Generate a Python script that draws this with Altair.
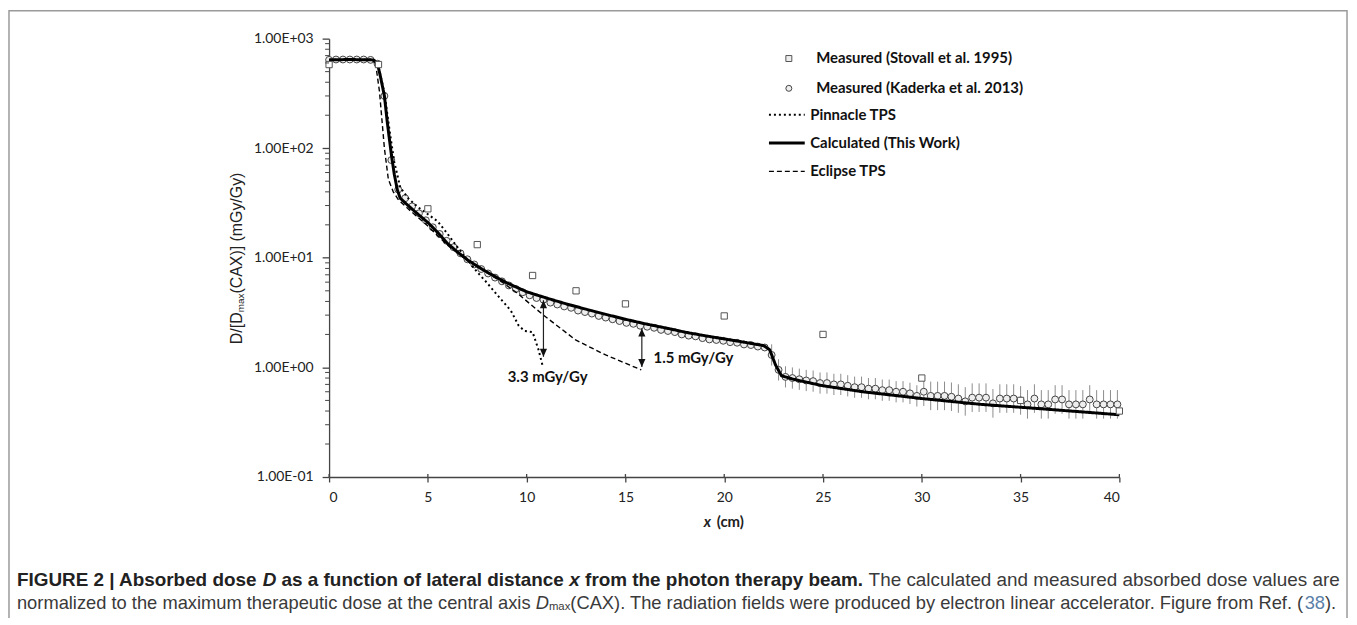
import altair as alt
import pandas as pd

# ---------------- data ----------------
stovall_x = [0, 2.5, 5, 7.5, 10.3, 12.5, 15, 20, 25, 30, 35, 40]
stovall_y = [580, 580, 28, 13.2, 6.9, 5.0, 3.8, 2.95, 2.0, 0.8, 0.5, 0.4]

kaderka_x = [0.0, 0.35, 0.7, 1.05, 1.4, 1.75, 2.1, 2.45, 2.8, 3.15, 3.5, 3.85, 4.2, 4.55, 4.9,
             5.25, 5.6, 5.95, 6.3, 6.65, 7.0, 7.35, 7.7, 8.05, 8.4, 8.75, 9.1, 9.45, 9.8, 10.15,
             10.5, 10.85, 11.2, 11.55, 11.9, 12.25, 12.6, 12.95, 13.3, 13.65, 14.0, 14.35, 14.7,
             15.05, 15.4, 15.75, 16.1, 16.45, 16.8, 17.15, 17.5, 17.85, 18.2, 18.55, 18.9, 19.25,
             19.6, 19.95, 20.3, 20.65, 21.0, 21.35, 21.7, 22.05, 22.4, 22.75, 23.1, 23.45, 23.8,
             24.15, 24.5, 24.85, 25.2, 25.55, 25.9, 26.25, 26.6, 26.95, 27.3, 27.65, 28.0, 28.35,
             28.7, 29.05, 29.4, 29.75, 30.1, 30.45, 30.8, 31.15, 31.5, 31.85, 32.2, 32.55, 32.9,
             33.25, 33.6, 33.95, 34.3, 34.65, 35.0, 35.35, 35.7, 36.05, 36.4, 36.75, 37.1, 37.45,
             37.8, 38.15, 38.5, 38.85, 39.2, 39.55, 39.9]
kaderka_y = [640, 645, 645, 645, 645, 645, 640, 590, 300, 78, 42, 35, 29.5, 25.5, 22,
             19, 16.5, 14.3, 12.5, 11.0, 9.7, 8.7, 7.9, 7.2, 6.6, 6.1, 5.6, 5.2, 4.85, 4.55,
             4.3, 4.15, 3.9, 3.75, 3.6, 3.5, 3.3, 3.2, 3.1, 2.95, 2.85, 2.75, 2.65,
             2.55, 2.5, 2.4, 2.35, 2.3, 2.2, 2.15, 2.1, 2.0, 1.95, 1.92, 1.85, 1.8,
             1.78, 1.75, 1.7, 1.68, 1.62, 1.6, 1.55, 1.52, 1.3, 0.95, 0.82, 0.8, 0.78,
             0.76, 0.75, 0.72, 0.72, 0.7, 0.7, 0.68, 0.66, 0.66, 0.64, 0.64, 0.62, 0.62,
             0.6, 0.6, 0.58, 0.55, 0.6, 0.55, 0.55, 0.55, 0.54, 0.52, 0.49, 0.53, 0.53,
             0.53, 0.47, 0.52, 0.52, 0.52, 0.5, 0.46, 0.52, 0.46, 0.46, 0.51, 0.51, 0.46,
             0.46, 0.46, 0.51, 0.46, 0.46, 0.46, 0.46]
# relative uncertainty of each Kaderka point (small before the field edge, larger after)
kaderka_err = [0.07] * 64 + [0.25] * 22 + [0.35] * 29

pinnacle_x = [0, 1, 2.3, 2.5, 2.8, 3.1, 3.3, 3.6, 4.0, 4.5, 5.0, 5.5, 6.0, 6.5, 7.0, 7.5,
              8.0, 8.5, 9.2, 9.6, 9.9, 10.3, 10.6, 10.8]
pinnacle_y = [640, 645, 640, 560, 320, 130, 75, 44, 35, 29, 25, 21.5, 16.5, 12.5, 9.6, 7.4,
              5.9, 4.6, 3.3, 2.4, 2.15, 2.1, 1.45, 1.05]

calc_x = [0, 1, 2.2, 2.45, 2.6, 2.8, 2.95, 3.15, 3.3, 3.45, 3.6, 4.0, 4.5, 5.0, 5.5, 6.0,
          6.5, 7.0, 7.5, 8.0, 9.0, 10.0, 11.0, 12.0, 13.0, 14.0, 15.0, 16.0, 17.0, 18.0,
          19.0, 20.0, 21.0, 22.0, 22.3, 22.6, 22.9, 23.5, 25, 27, 30, 33, 36, 40]
calc_y = [640, 645, 640, 590, 450, 300, 170, 88, 58, 42, 35, 30, 25, 21, 17, 13.5,
          11.3, 9.6, 8.4, 7.4, 5.9, 4.9, 4.3, 3.8, 3.4, 3.05, 2.75, 2.5, 2.3, 2.1,
          1.95, 1.82, 1.7, 1.58, 1.45, 1.05, 0.84, 0.78, 0.68, 0.6, 0.52, 0.46, 0.42, 0.37]

eclipse_x = [0, 1, 2.2, 2.35, 2.55, 2.8, 3.0, 3.25, 3.5, 4.0, 5.0, 6.0, 7.0, 8.0, 8.7, 9.5,
             10.85, 12.5, 14.0, 15.8]
eclipse_y = [640, 645, 640, 600, 330, 100, 52, 40, 34, 28, 19.5, 13, 9.4, 7.3, 6.1, 4.8,
             3.0, 1.77, 1.3, 0.95]

arrow_x = [10.85, 15.83]
arrow_top = [4.1, 2.26]
arrow_bottom = [1.25, 1.01]

ann_x = [11.06, 18.44]
ann_y = [0.82, 1.21]
ann_text = ["3.3 mGy/Gy", "1.5 mGy/Gy"]

x_ticks = [0, 5, 10, 15, 20, 25, 30, 35, 40]
y_ticks = [0.1, 1, 10, 100, 1000]
y_minor = [m * d for d in (0.1, 1, 10, 100) for m in range(2, 10)]

point_names = ["Measured (Stovall et al. 1995)", "Measured (Kaderka et al. 2013)"]
line_names = ["Pinnacle TPS", "Calculated (This Work)", "Eclipse TPS"]

# ---------------- layout ----------------
W, H = 795, 441
OX, OY = 331, 37          # page position of the plot origin


def rx(px):
    return px - OX


def ry(py):
    return py - OY


# Liberation Sans (Arial-metric) advance widths, used to place mixed-style text runs
_UP = "ABCDEFGHIJKLMNOPQRSTUVWXYZ"
_LO = "abcdefghijklmnopqrstuvwxyz"
REG = dict(zip(_UP, [667, 667, 722, 722, 667, 611, 778, 722, 278, 500, 667, 556, 833, 722, 778,
                     667, 778, 722, 667, 611, 722, 667, 944, 667, 667, 611]))
REG.update(zip(_LO, [556, 556, 500, 556, 556, 278, 556, 556, 222, 222, 500, 222, 833, 556, 556,
                     556, 556, 333, 500, 278, 556, 500, 722, 500, 500, 500]))
REG.update({" ": 278, ".": 278, ",": 278, "(": 333, ")": 333, "|": 260, "/": 278, "[": 278,
            "]": 278})
REG.update({d: 556 for d in "0123456789"})
BOLD = dict(zip(_UP, [722, 722, 722, 722, 667, 611, 778, 722, 278, 556, 722, 611, 833, 722, 778,
                      667, 778, 722, 667, 611, 722, 667, 944, 667, 667, 611]))
BOLD.update(zip(_LO, [556, 611, 556, 611, 556, 333, 611, 611, 278, 278, 556, 278, 889, 611, 611,
                      611, 611, 389, 556, 333, 611, 556, 778, 556, 556, 500]))
BOLD.update({" ": 278, ".": 278, ",": 278, "(": 333, ")": 333, "|": 280, "/": 278, "[": 333,
             "]": 333})
BOLD.update({d: 556 for d in "0123456789"})


def tw(s, bold=False):
    t = BOLD if bold else REG
    return sum(t.get(c, 556) for c in s) / 1000.0


ONE = pd.DataFrame({"k": [0]})


def text_run(s, x, y, size, weight="normal", style="normal", font="Liberation Sans",
             color="#222222", align="left", angle=0):
    return alt.Chart(ONE).mark_text(
        text=s, font=font, fontSize=size, fontWeight=weight, fontStyle=style, color=color,
        align=align, baseline="middle", angle=angle
    ).encode(x=alt.value(x), y=alt.value(y))


xs = alt.Scale(domain=[0, 40], nice=False)
ys = alt.Scale(type="log", domain=[0.1, 1000], nice=False)

x_axis = alt.Axis(values=x_ticks, title=None, grid=False, format="d", domainColor="#444444",
                  domainWidth=1.3, tickColor="#444444", tickWidth=1.3, tickSize=5,
                  labelFont="Lato", labelFontSize=14, labelColor="#222222", labelPadding=9)
y_axis = alt.Axis(values=y_ticks, title=None, grid=False, domainColor="#444444",
                  domainWidth=1.3, tickColor="#444444", tickWidth=1.3, tickSize=7,
                  labelFont="Lato", labelFontSize=14, labelColor="#222222", labelPadding=9,
                  labelExpr="'1.00E' + (datum.value < 1 ? '-' : '+') + '0' + "
                            "abs(round(log(datum.value) / LN10))")

pt_legend = alt.Legend(
    orient="none", legendX=455, legendY=12.5, title=None, padding=0,
    labelFont="Lato", labelFontSize=15, labelFontWeight="bold", labelColor="#111111",
    labelLimit=400, symbolSize=36, rowPadding=14, labelOffset=20,
    symbolFillColor="#ffffff", symbolStrokeWidth=1, symbolOpacity=1)
ln_legend = alt.Legend(
    orient="none", legendX=446, legendY=62.5, title=None, padding=0,
    labelFont="Lato", labelFontSize=15, labelFontWeight="bold", labelColor="#111111",
    labelLimit=400, symbolType="M-1.385,0L1.385,0", symbolSize=676, rowPadding=6,
    labelOffset=9, symbolStrokeColor="#000000")

kad = pd.DataFrame({"x": kaderka_x, "y": kaderka_y, "e": kaderka_err})
kad["lo"] = kad["y"] / (1 + kad["e"])
kad["hi"] = kad["y"] * (1 + kad["e"])
kad["series"] = point_names[1]
sto = pd.DataFrame({"x": stovall_x, "y": stovall_y, "series": point_names[0]})

lines = pd.concat([
    pd.DataFrame({"x": pinnacle_x, "y": pinnacle_y, "series": line_names[0]}),
    pd.DataFrame({"x": calc_x, "y": calc_y, "series": line_names[1]}),
    pd.DataFrame({"x": eclipse_x, "y": eclipse_y, "series": line_names[2]}),
])

arrows = pd.DataFrame({"x": arrow_x, "top": arrow_top, "bottom": arrow_bottom})
anns = pd.DataFrame({"x": ann_x, "y": ann_y, "t": ann_text})

shape_scale = alt.Scale(domain=point_names, range=["square", "circle"])
pstroke_scale = alt.Scale(domain=point_names, range=["#555555", "#444444"])
dash_scale = alt.Scale(domain=line_names, range=[[2, 3], [1, 0], [5, 3]])
width_scale = alt.Scale(type="ordinal", domain=line_names, range=[2.0, 3.0, 1.4])

errbars = alt.Chart(kad).mark_rule(color="#8c8c8c", strokeWidth=1).encode(
    x=alt.X("x:Q", scale=xs, axis=x_axis),
    y=alt.Y("lo:Q", scale=ys, axis=y_axis),
    y2="hi:Q",
)
circles = alt.Chart(kad).mark_point(filled=False, fill="#eeeeee", strokeWidth=1, opacity=1,
                                    size=48).encode(
    x=alt.X("x:Q", scale=xs), y=alt.Y("y:Q", scale=ys),
    shape=alt.Shape("series:N", scale=shape_scale, legend=pt_legend),
    stroke=alt.Stroke("series:N", scale=pstroke_scale, legend=pt_legend),
)
curves = alt.Chart(lines).mark_line(color="#000000").encode(
    x=alt.X("x:Q", scale=xs), y=alt.Y("y:Q", scale=ys),
    strokeDash=alt.StrokeDash("series:N", scale=dash_scale, legend=ln_legend),
    strokeWidth=alt.StrokeWidth("series:N", scale=width_scale, legend=ln_legend),
)
squares = alt.Chart(sto).mark_point(filled=False, fill="#ffffff", strokeWidth=1, opacity=1,
                                    size=40).encode(
    x=alt.X("x:Q", scale=xs), y=alt.Y("y:Q", scale=ys),
    shape=alt.Shape("series:N", scale=shape_scale, legend=pt_legend),
    stroke=alt.Stroke("series:N", scale=pstroke_scale, legend=pt_legend),
)

minor = alt.Chart(pd.DataFrame({"v": y_minor})).mark_rule(color="#444444", strokeWidth=1).encode(
    y=alt.Y("v:Q", scale=ys), x=alt.value(-4), x2=alt.value(0))
xup = alt.Chart(pd.DataFrame({"v": x_ticks})).mark_rule(color="#444444", strokeWidth=1.3).encode(
    x=alt.X("v:Q", scale=xs), y=alt.value(H - 3), y2=alt.value(H))

arrow_line = alt.Chart(arrows).mark_rule(color="#222222", strokeWidth=1.2).encode(
    x=alt.X("x:Q", scale=xs), y=alt.Y("top:Q", scale=ys), y2="bottom:Q")
head_up = alt.Chart(arrows).mark_point(shape="M0,0L-0.9,2L0.9,2Z", filled=True,
                                       color="#111111", opacity=1, size=64).encode(
    x=alt.X("x:Q", scale=xs), y=alt.Y("top:Q", scale=ys))
head_dn = alt.Chart(arrows).mark_point(shape="M0,0L-0.9,-2L0.9,-2Z", filled=True,
                                       color="#111111", opacity=1, size=64).encode(
    x=alt.X("x:Q", scale=xs), y=alt.Y("bottom:Q", scale=ys))
ann = alt.Chart(anns).mark_text(font="Lato", fontSize=15, fontWeight="bold", color="#111111",
                                align="center", baseline="middle").encode(
    x=alt.X("x:Q", scale=xs), y=alt.Y("y:Q", scale=ys), text="t:N")

layers = [errbars, circles, curves, squares, minor, xup, arrow_line, head_up, head_dn, ann]

# x-axis title: italic x + (cm)
layers.append(text_run("x", rx(708), ry(523), 15, "bold", "italic", font="Lato"))
layers.append(text_run("(cm)", rx(721), ry(523), 15, "bold", font="Lato"))

# y-axis title with subscript, rotated
ytitle = [("D/[D", 16, 0), ("max", 10, 4), ("(CAX)] (mGy/Gy)", 16, 0)]
ylen = sum(tw(s) * f for s, f, _ in ytitle)
ybot = ry(258) + ylen / 2
acc = 0
for s, f, dx in ytitle:
    layers.append(text_run(s, rx(238) + dx, ybot - acc, f, angle=270))
    acc += tw(s) * f

# caption
line1 = [("FIGURE 2 | Absorbed dose ", "bold", "normal", "#222222"),
         ("D", "bold", "italic", "#222222"),
         (" as a function of lateral distance ", "bold", "normal", "#222222"),
         ("x", "bold", "italic", "#222222"),
         (" from the photon therapy beam.", "bold", "normal", "#222222"),
         (" The calculated and measured absorbed dose values are", "normal", "normal",
          "#3a3a3a")]
em1 = sum(tw(s, w == "bold") for s, w, _, _ in line1)
fs = round((1348 - 17) / em1, 2)
cap_x0 = rx(17)
pos = cap_x0
for s, w, st, c in line1:
    lead = len(s) - len(s.lstrip(" "))
    if s.strip():
        layers.append(text_run(s.strip(), pos + tw(" " * lead, w == "bold") * fs, ry(582), fs,
                               w, st, color=c))
    pos += tw(s, w == "bold") * fs

line2 = [("normalized to the maximum therapeutic dose at the central axis ", 1.0, "normal", 0,
          "#3a3a3a"),
         ("D", 1.0, "italic", 0, "#3a3a3a"),
         ("max", 0.62, "normal", 4, "#3a3a3a"),
         ("(CAX). The radiation fields were produced by electron linear accelerator. "
          "Figure from Ref. (", 1.0, "normal", 0, "#3a3a3a"),
         ("38", 1.0, "normal", 0, "#5a7fa8"),
         (").", 1.0, "normal", 0, "#3a3a3a")]
em2 = sum(tw(s) * k for s, k, _, _, _ in line2)
fs2 = round((1344 - 17) / em2, 2)
pos = cap_x0
for s, k, st, dy, c in line2:
    f = fs2 * k
    lead = len(s) - len(s.lstrip(" "))
    if s.strip():
        layers.append(text_run(s.strip(), pos + tw(" " * lead) * f, ry(605) + dy, f, "normal",
                               st, color=c))
    pos += tw(s) * f

# figure frame
frame = alt.Chart(ONE).mark_rect(fillOpacity=0, stroke="#9a9a9a", strokeWidth=1.5).encode(
    x=alt.value(rx(9)), x2=alt.value(rx(1355)), y=alt.value(ry(9)), y2=alt.value(ry(700)))
layers.append(frame)

chart = alt.layer(*layers).properties(
    width=W, height=H,
    autosize=alt.AutoSizeParams(type="none"),
    padding={"left": OX - 8, "top": OY - 8, "right": 1349 - (OX - 8) - W,
             "bottom": 610 - (OY - 8) - H},
    background="white",
).configure_view(stroke=None)

chart.save("out.html", embed_options={"renderer": "svg", "actions": False})
